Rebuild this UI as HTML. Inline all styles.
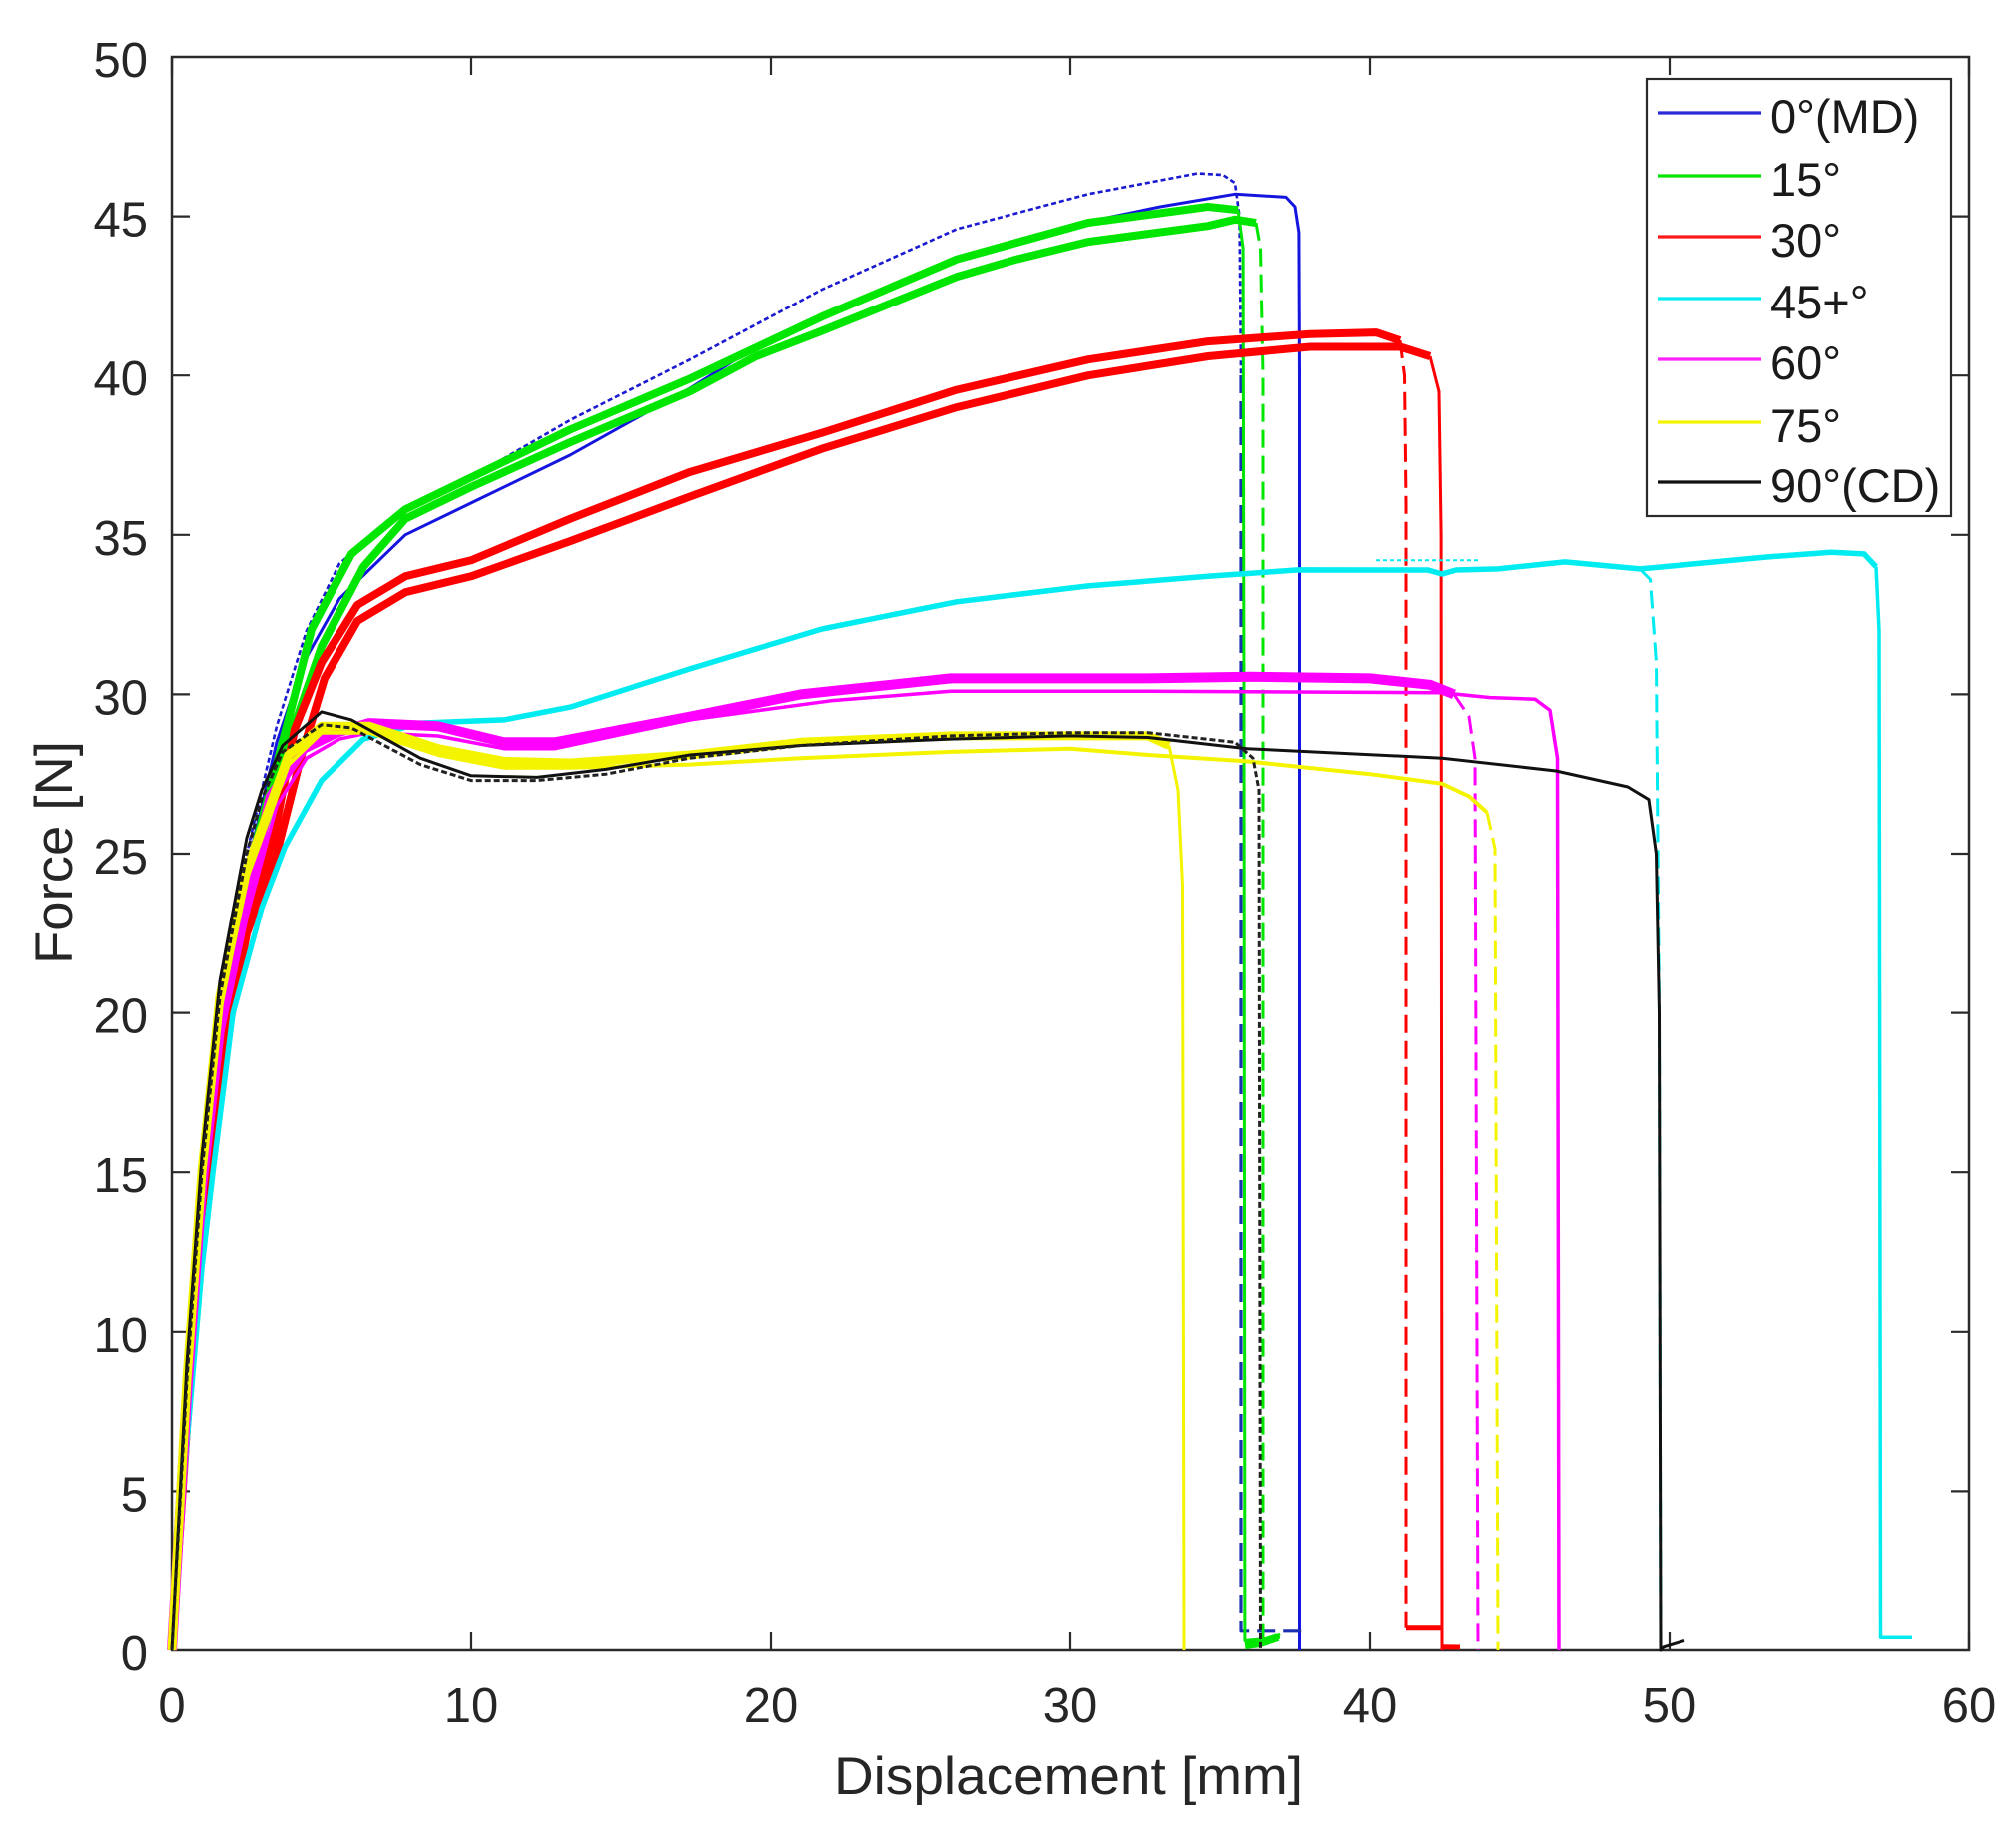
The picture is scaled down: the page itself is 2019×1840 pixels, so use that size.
<!DOCTYPE html>
<html>
<head>
<meta charset="utf-8">
<style>
  html, body { margin: 0; padding: 0; background: #ffffff; }
  svg { display: block; }
  text { font-family: "Liberation Sans", Arial, sans-serif; fill: #262626; }
</style>
</head>
<body>
<svg width="2019" height="1840" viewBox="0 0 2019 1840" xmlns="http://www.w3.org/2000/svg">
  <rect x="0" y="0" width="2019" height="1840" fill="#ffffff"/>

  <!-- axes box -->
  <rect x="172" y="57" width="1800" height="1596" fill="none" stroke="#2a2a2a" stroke-width="2.5"/>
  <!-- ticks -->
  <g stroke="#2a2a2a" stroke-width="2.2">
    <path d="M172,1653V1635 M472,1653V1635 M772,1653V1635 M1072,1653V1635 M1372,1653V1635 M1672,1653V1635 M1972,1653V1635"/>
    <path d="M172,57V75 M472,57V75 M772,57V75 M1072,57V75 M1372,57V75 M1672,57V75 M1972,57V75"/>
    <path d="M172,1493.4H190 M172,1333.8H190 M172,1174.2H190 M172,1014.6H190 M172,855H190 M172,695.4H190 M172,535.8H190 M172,376.2H190 M172,216.6H190"/>
    <path d="M1972,1493.4H1954 M1972,1333.8H1954 M1972,1174.2H1954 M1972,1014.6H1954 M1972,855H1954 M1972,695.4H1954 M1972,535.8H1954 M1972,376.2H1954 M1972,216.6H1954"/>
  </g>

  <!-- y tick labels -->
  <g font-size="49" text-anchor="end">
    <text x="148" y="1673">0</text>
    <text x="148" y="1513.4">5</text>
    <text x="148" y="1353.8">10</text>
    <text x="148" y="1194.2">15</text>
    <text x="148" y="1034.6">20</text>
    <text x="148" y="875">25</text>
    <text x="148" y="715.4">30</text>
    <text x="148" y="555.8">35</text>
    <text x="148" y="396.2">40</text>
    <text x="148" y="236.6">45</text>
    <text x="148" y="77">50</text>
  </g>
  <!-- x tick labels -->
  <g font-size="49" text-anchor="middle">
    <text x="172" y="1725">0</text>
    <text x="472" y="1725">10</text>
    <text x="772" y="1725">20</text>
    <text x="1072" y="1725">30</text>
    <text x="1372" y="1725">40</text>
    <text x="1672" y="1725">50</text>
    <text x="1972" y="1725">60</text>
  </g>
  <!-- axis labels -->
  <text x="1070" y="1797" font-size="53" text-anchor="middle" textLength="470" lengthAdjust="spacingAndGlyphs">Displacement [mm]</text>
  <text x="0" y="0" font-size="53" text-anchor="middle" textLength="224" lengthAdjust="spacingAndGlyphs" transform="translate(72,854) rotate(-90)">Force [N]</text>

  <g fill="none" stroke-linejoin="round" stroke-linecap="butt">
    <!-- ===== 0° (MD) blue ===== -->
    <path stroke="#1515e0" stroke-width="3" d="M172,1653 L187,1413.6 L202,1206.1 L220,1030.6 L247,871 L277,743.3 L304,663.5 L340,599.6 L406,535.8 L472,503.9 L571,456 L691,389 L757,347.5 L832,312.4 L952,261.3 L1108,218.2 L1162,207 L1237,194.3 L1288,197.4 L1297,207 L1300.9,232.6 L1301.5,376 L1301.5,1653"/>
    <path stroke="#1a1ad0" stroke-width="2.6" stroke-dasharray="5 3" d="M172,1653 L187,1397.6 L202,1190.2 L220,1014.6 L247,855 L277,727.3 L307,631.6 L340,564.5 L406,510.3 L472,478.3 L571,420.9 L691,360.2 L823,290 L958,229.4 L1090,194.3 L1199.5,173.5 L1225,175.1 L1237,183.1 L1241.5,216.6 L1243,376"/>
    <path stroke="#1a2fb0" stroke-width="3.2" stroke-dasharray="18 8" d="M1243,376 L1243,1633.8 L1306,1633.8"/>

    <!-- ===== 15° green ===== -->
    <path stroke="#00e600" stroke-width="8" d="M172,1653 L187,1381.7 L202,1174.2 L220,998.6 L255.1,848.6 L282.1,746.5 L312.1,630 L352,554.9 L406,510.3 L472,478.3 L571,430.5 L691,379.4 L823,317.2 L958,259.7 L1090,223 L1210,207 L1240,210.2"/>
    <path stroke="#00e600" stroke-width="3" d="M1240,210.2 L1245.1,248.5 L1246,695 L1246.9,1643.4 L1282,1640.2"/>
    <path stroke="#00e600" stroke-width="8" d="M172,1653 L187,1397.6 L202,1190.2 L220,1014.6 L262,839 L289,743.3 L322,647.5 L364,567.7 L406,519.8 L472,487.9 L571,443.2 L691,392.2 L757,357 L823,331.5 L958,277.2 L1018,259.7 L1090,242.1 L1210,226.2 L1237,219.8 L1258,223"/>
    <path stroke="#00e600" stroke-width="3" stroke-dasharray="18 8" d="M1258,223 L1262.5,248.5 L1265,376 L1265,1646.6 L1282,1637"/>
    <path stroke="#00e600" stroke-width="8" d="M1247,1648 L1262,1646 L1280,1640"/>

    <!-- ===== 30° red ===== -->
    <path stroke="#ff0000" stroke-width="8" d="M172,1653 L187,1413.6 L202,1222.1 L220,1062.5 L247,918.8 L274,839 L295,730.5 L322,663.5 L358,606 L406,577.3 L472,561.3 L571,519.8 L691,472.9 L823,433.7 L958,390.6 L1090,360.2 L1210,342.1 L1312,334.7 L1378,333.1 L1402,341.1"/>
    <path stroke="#ff0000" stroke-width="3" stroke-dasharray="18 8" d="M1402,341.1 L1406.5,376 L1408,503.9 L1408,1630.7"/>
    <path stroke="#ff0000" stroke-width="5" d="M1408,1630.7 L1444,1630.7"/>
    <path stroke="#ff0000" stroke-width="8" d="M172,1653 L187,1429.6 L202,1238 L220,1078.4 L247,934.8 L277,855 L301,759.2 L325,679.4 L358,622 L406,593.3 L472,577.3 L571,542.2 L691,497.5 L823,449.6 L958,408.1 L1090,376.2 L1210,357 L1312,347.5 L1402,347.5 L1432,357"/>
    <path stroke="#ff0000" stroke-width="3" d="M1432,357 L1441,392.2 L1443.1,535.8 L1444,1653"/>
    <path stroke="#ff0000" stroke-width="5" d="M1444,1649.8 L1462,1650"/>

    <!-- ===== 45+° cyan ===== -->
    <path stroke="#00ecf0" stroke-width="5.5" d="M172,1653 L187,1445.5 L202,1270 L213.1,1174.2 L233.2,1014.6 L262,909.3 L285.1,848.6 L322,781.6 L364,740.1 L421,724.1 L505,720.9 L571,708.2 L691,669.9 L823,630 L958,602.8 L1090,586.9 L1210,577.3 L1300,570.9 L1430,571 L1444,575 L1458,571 L1500,569.9 L1567,562.9 L1642,569.9 L1666,567.7 L1768,558.1 L1834,553.3 L1867,554.9 L1879,567.7"/>
    <path stroke="#00ecf0" stroke-width="3.5" d="M1879,567.7 L1882,631.6 L1883.5,1640.2 L1915,1640.2"/>
    <path stroke="#00ecf0" stroke-width="3" stroke-dasharray="18 8" d="M1642,569.9 L1652.5,580.5 L1658.5,663.5 L1661.5,1014.6 L1663,1653"/>
    <path stroke="#00ecf0" stroke-width="2" stroke-dasharray="4 3" d="M1378,561.3 L1480,561.3"/>

    <!-- ===== 60° magenta ===== -->
    <path stroke="#ff00ff" stroke-width="10" d="M172,1653 L187,1397.6 L202,1190.2 L220,1030.6 L247,902.9 L271,797.5 L304,749.7 L337,733.7 L370,724.1 L439,727.3 L505,743.3 L556,743.3 L691,717.7 L802,695.4 L952,679.4 L1150,679.4 L1252,677.8 L1372,679.4 L1432,685.8 L1456,695.4"/>
    <path stroke="#ff00ff" stroke-width="3" stroke-dasharray="18 8" d="M1456,695.4 L1471,717.7 L1477,759.2 L1480,1653"/>
    <path stroke="#ff00ff" stroke-width="3.5" d="M172,1653 L187,1413.6 L202,1206.1 L220,1046.5 L247,918.8 L277,807 L307,759.2 L340,740.1 L370,733.7 L439,737 L505,749.7 L556,749.7 L691,720.9 L832,701.8 L952,692.2 L1150,692.2 L1444,693.8 L1492,698.6 L1537,700.2 L1552,711.4 L1559.5,759.2 L1561,1653"/>

    <!-- ===== 75° yellow ===== -->
    <path stroke="#f4f400" stroke-width="9" d="M172,1653 L187,1381.7 L202,1174.2 L220,998.6 L247,871 L289,756 L322,727.3 L370,727.3 L439,749.7 L505,762.4 L571,764 L691,756 L802,743.3 L952,736.9 L1072,736.9 L1150,736.9 L1171,746.5"/>
    <path stroke="#f4f400" stroke-width="3" d="M1171,746.5 L1180,791.2 L1184.5,886.9 L1186,1653"/>
    <path stroke="#f4f400" stroke-width="4" d="M172,1653 L187,1397.6 L202,1190.2 L220,1014.6 L247,880 L289,765.6 L322,733.7 L370,733.7 L439,756 L505,768.8 L571,768.8 L691,765.6 L802,759.2 L952,752.9 L1072,749.7 L1150,756 L1249,762.4 L1372,775.2 L1444,784.8 L1471,797.5 L1489,813.5"/>
    <path stroke="#f4f400" stroke-width="3" stroke-dasharray="18 8" d="M1489,813.5 L1497,850 L1500,1653"/>

    <!-- ===== 90° (CD) black ===== -->
    <path stroke="#111111" stroke-width="3" d="M172,1653 L187,1365.7 L202,1158.2 L220,982.7 L247,839 L262,791.2 L283,746.5 L322,712.9 L352,720.9 L421,759.2 L472,776.8 L538,778.4 L607,770.4 L691,756 L802,746.5 L952,740.1 L1072,736.9 L1150,738.5 L1249,749.7 L1444,759.2 L1558,772 L1630,788 L1651,800.7 L1658.5,855 L1661.5,1014.6 L1663,1653 L1666,1649.8 L1687,1643.4"/>
    <path stroke="#222222" stroke-width="3" stroke-dasharray="6 3" d="M172,1653 L187,1381.7 L202,1174.2 L220,998.6 L247,855 L262,800 L283,752.9 L322,725.7 L352,728.9 L421,765.6 L472,781.6 L538,781.6 L607,775.2 L691,759.2 L802,746.5 L952,736.9 L1072,733.7 L1150,733.7 L1237,743.3 L1255,759.2 L1261,791.2 L1262.5,1653"/>
  </g>

  <!-- legend -->
  <rect x="1649" y="79" width="305" height="438" fill="#ffffff" stroke="#2a2a2a" stroke-width="2.2"/>
  <g stroke-width="3.2">
    <line x1="1660" y1="113" x2="1764" y2="113" stroke="#2a2ad6"/>
    <line x1="1660" y1="176" x2="1764" y2="176" stroke="#00e600"/>
    <line x1="1660" y1="237" x2="1764" y2="237" stroke="#ff1a1a"/>
    <line x1="1660" y1="299" x2="1764" y2="299" stroke="#00ecf0"/>
    <line x1="1660" y1="360" x2="1764" y2="360" stroke="#ff22ff"/>
    <line x1="1660" y1="423" x2="1764" y2="423" stroke="#f4f400"/>
    <line x1="1660" y1="483" x2="1764" y2="483" stroke="#111111"/>
  </g>
  <g font-size="47">
    <text x="1773" y="133" style="fill:#1a1a1a">0°(MD)</text>
    <text x="1773" y="196" style="fill:#1a1a1a">15°</text>
    <text x="1773" y="257" style="fill:#1a1a1a">30°</text>
    <text x="1773" y="319" style="fill:#1a1a1a">45+°</text>
    <text x="1773" y="380" style="fill:#1a1a1a">60°</text>
    <text x="1773" y="443" style="fill:#1a1a1a">75°</text>
    <text x="1773" y="503" style="fill:#1a1a1a">90°(CD)</text>
  </g>
</svg>
</body>
</html>
